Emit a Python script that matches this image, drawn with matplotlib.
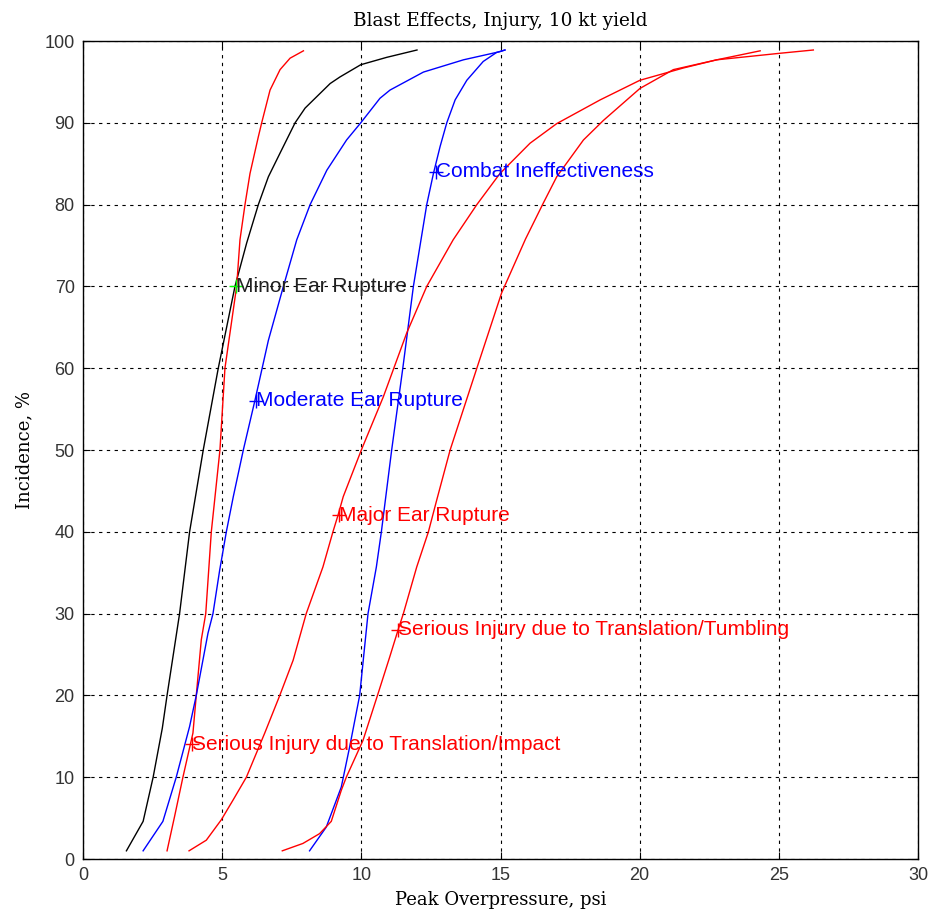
import matplotlib
matplotlib.use("Agg")
import matplotlib.pyplot as plt
import numpy as np

# curve data (overpressure psi, incidence %)
minor_x = [1.56, 2.16, 2.52, 2.85, 3.02, 3.47, 3.83, 4.32, 4.86, 5.46, 5.88, 6.30, 6.66, 7.08, 7.62, 7.98, 8.52, 8.88, 9.23, 9.98, 10.91, 12.0]
minor_y = [1.0, 4.6, 10.0, 16.0, 20.0, 30.0, 40.0, 50.0, 60.0, 70.0, 75.3, 80.0, 83.4, 86.3, 90.0, 91.8, 93.6, 94.8, 95.6, 97.1, 98.0, 98.9]

impact_x = [3.02, 3.29, 3.59, 3.95, 4.07, 4.25, 4.41, 4.61, 4.92, 5.10, 5.52, 5.64, 5.82, 6.0, 6.30, 6.42, 6.72, 7.08, 7.44, 7.92]
impact_y = [1.0, 5.2, 10.0, 15.4, 20.0, 26.8, 30.0, 40.0, 50.0, 60.0, 70.0, 75.7, 80.0, 83.8, 88.3, 90.0, 94.0, 96.5, 97.9, 98.8]

moderate_x = [2.16, 2.87, 3.35, 3.83, 4.07, 4.49, 4.67, 4.91, 5.15, 5.40, 5.76, 6.18, 6.66, 7.20, 7.68, 8.16, 8.76, 9.47, 9.98, 10.67, 11.03, 12.23, 13.67, 14.98, 15.16]
moderate_y = [1.0, 4.6, 10.0, 16.2, 20.0, 27.6, 30.0, 35.3, 40.0, 44.3, 50.0, 56.1, 63.4, 70.0, 75.7, 80.0, 84.2, 87.9, 90.0, 93.0, 94.0, 96.2, 97.7, 98.7, 98.9]

combat_x = [8.14, 8.74, 9.28, 9.58, 9.94, 10.24, 10.54, 10.72, 11.09, 11.49, 11.87, 12.35, 12.59, 12.83, 13.07, 13.37, 13.79, 14.38, 14.86, 15.16]
combat_y = [1.0, 3.9, 8.8, 13.7, 20.0, 30.0, 35.7, 40.0, 50.0, 60.0, 70.0, 80.0, 83.8, 87.1, 90.0, 92.8, 95.2, 97.5, 98.6, 98.9]

major_x = [3.81, 4.43, 4.97, 5.39, 5.87, 6.53, 7.07, 7.55, 8.02, 8.62, 8.98, 9.16, 9.35, 10.0, 10.79, 11.63, 12.35, 13.30, 14.15, 14.98, 16.06, 17.02, 18.58, 20.01, 21.57, 22.77, 24.33]
major_y = [1.0, 2.3, 4.8, 7.2, 10.0, 15.4, 20.0, 24.3, 30.0, 35.7, 40.0, 42.0, 44.3, 50.0, 56.5, 64.3, 70.0, 75.7, 80.0, 83.8, 87.5, 89.9, 92.8, 95.2, 96.7, 97.7, 98.8]

tumbling_x = [7.16, 7.90, 8.50, 8.92, 9.28, 9.46, 10.06, 10.58, 11.02, 11.32, 11.51, 11.99, 12.41, 12.71, 13.19, 14.15, 15.04, 15.9, 16.54, 17.02, 17.98, 18.70, 20.01, 21.21, 22.77, 25.04, 26.24]
tumbling_y = [1.0, 1.9, 3.1, 4.6, 8.4, 10.0, 14.5, 20.0, 24.7, 28.0, 30.0, 35.7, 40.0, 43.9, 50.0, 60.0, 69.2, 75.8, 80.2, 83.4, 87.9, 90.3, 94.2, 96.5, 97.7, 98.5, 98.9]

# label anchor points
labels = ["Minor Ear Rupture", "Serious Injury due to Translation/Impact", "Moderate Ear Rupture",
          "Combat Ineffectiveness", "Major Ear Rupture", "Serious Injury due to Translation/Tumbling"]
label_x = [5.5, 3.9, 6.2, 12.7, 9.2, 11.3]
label_y = [70, 14, 56, 84, 42, 28]

curves = [(minor_x, minor_y), (impact_x, impact_y), (moderate_x, moderate_y),
          (combat_x, combat_y), (major_x, major_y), (tumbling_x, tumbling_y)]
line_colors = ["black", "red", "blue", "blue", "red", "red"]
marker_colors = ["#00ff00", "red", "blue", "blue", "red", "red"]
text_colors = ["#202020", "red", "blue", "blue", "red", "red"]

fig = plt.figure(figsize=(9.3, 9.17), dpi=100)
ax = fig.add_axes([83/930, 1 - 859/917, (918 - 83)/930, (859 - 41)/917])

for (cx, cy), c in zip(curves, line_colors):
    ax.plot(cx, cy, color=c, lw=1.0)

for i in range(len(labels)):
    ax.plot(label_x[i], label_y[i], marker="+", color=marker_colors[i], ms=10, mew=1.0)
    ax.text(label_x[i], label_y[i], labels[i], color=text_colors[i], fontsize=15,
            family="Liberation Sans", ha="left", va="center")

ax.set_xlim(0, 30)
ax.set_ylim(0, 100)
ax.set_xticks(np.arange(0, 31, 5))
ax.set_yticks(np.arange(0, 101, 10))
ax.grid(True, color="black", lw=0.8, linestyle=(0, (3, 4)))
ax.tick_params(direction="in", length=5, top=True, right=True, labelsize=13, pad=6)
for lbl in ax.get_xticklabels() + ax.get_yticklabels():
    lbl.set_family("Liberation Sans")
    lbl.set_color("#333333")
for sp in ax.spines.values():
    sp.set_linewidth(1.0)

ax.set_title("Blast Effects, Injury, 10 kt yield", fontsize=13.3, family="DejaVu Serif", pad=11)
ax.set_xlabel("Peak Overpressure, psi", fontsize=13, family="DejaVu Serif", labelpad=5)
ax.set_ylabel("Incidence, %", fontsize=13, family="DejaVu Serif", labelpad=8)

fig.savefig("out.png", dpi=100)
